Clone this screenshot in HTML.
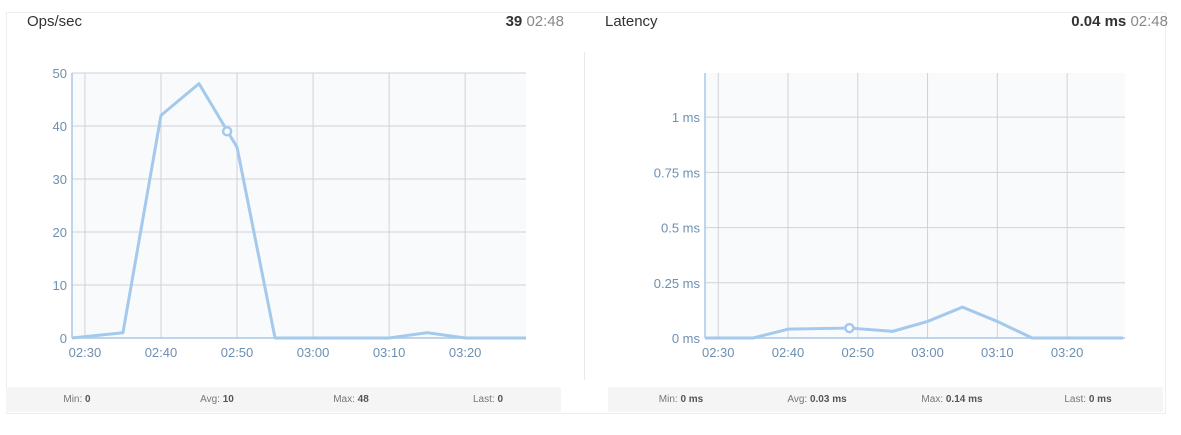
<!DOCTYPE html>
<html><head><meta charset="utf-8"><style>
body{margin:0;width:1181px;height:435px;background:#fff;font-family:"Liberation Sans",sans-serif;position:relative;overflow:hidden}
.card{position:absolute;left:6px;top:12px;width:1158px;height:400px;border:1px solid #eceef0;border-right:1px solid #eceef0}
.sep{position:absolute;left:584px;top:52px;width:1px;height:328px;background:#e6e8ea}
.title{position:absolute;top:13px;font-size:15px;color:#333}
.val{position:absolute;top:13px;font-size:15px;color:#888;text-align:right}
.val b{color:#333}
.foot{position:absolute;top:387px;height:25px;background:#f5f5f5;font-size:10px;color:#777;border-radius:2px}
.foot span{position:absolute;top:7px;transform:translateX(-50%);white-space:nowrap}
.foot b{color:#555}
svg{position:absolute;left:0;top:0}
</style></head><body>
<div class="card"></div>
<div class="sep"></div>
<div class="title" style="left:27px">Ops/sec</div>
<div class="val" style="right:617px"><b>39</b> 02:48</div>
<div class="title" style="left:605px">Latency</div>
<div class="val" style="right:13px"><b>0.04 ms</b> 02:48</div>
<div class="foot" style="left:6px;width:555px">
<span style="left:71px">Min: <b>0</b></span><span style="left:211px">Avg: <b>10</b></span><span style="left:345px">Max: <b>48</b></span><span style="left:482px">Last: <b>0</b></span></div>
<div class="foot" style="left:608px;width:555px">
<span style="left:73px">Min: <b>0 ms</b></span><span style="left:209px">Avg: <b>0.03 ms</b></span><span style="left:344px">Max: <b>0.14 ms</b></span><span style="left:480px">Last: <b>0 ms</b></span></div>
<svg id="svg" width="1181" height="435"></svg>
<script>
const xTickLabels=["02:30","02:40","02:50","03:00","03:10","03:20"];
const xTickMins=[0,10,20,30,40,50];
const opsTimes=[-1.7,5,10,15,20,25,30,35,40,45,50,55,58];
const opsValues=[0,1,42,48,36,0,0,0,0,1,0,0,0];
const opsYTicks=[0,10,20,30,40,50];
const opsMarker=[18.7,39];
const latTimes=[-1.9,5,10,18.8,25,30,35,40,45,50,55,58];
const latValues=[0,0,0.04,0.045,0.03,0.075,0.14,0.075,0,0,0,0];
const latYTicks=[0,0.25,0.5,0.75,1];
const latYLabels=["0 ms","0.25 ms","0.5 ms","0.75 ms","1 ms"];
const latMarker=[18.8,0.045];
const NS="http://www.w3.org/2000/svg";
const svg=document.getElementById('svg');
function mk(t,a,p){const e=document.createElementNS(NS,t);for(const k in a)e.setAttribute(k,a[k]);(p||svg).appendChild(e);return e;}
function chart(o){
  const X=m=>o.x0+(m-o.tMin)*(o.x1-o.x0)/(o.tMax-o.tMin);
  const Y=v=>o.y1-(v-o.vMin)*(o.y1-o.y0)/(o.vMax-o.vMin);
  const g=mk('g',{});
  
  
  mk('rect',{x:o.x0,y:o.y0,width:o.x1-o.x0,height:o.y1-o.y0,fill:'#f9fafc'},g);
  o.yt.forEach((v,i)=>{
    const y=Y(v);
    const l=mk('line',{x1:o.x0,x2:o.x1,y1:y,y2:y,stroke:'#cfd2d8','stroke-width':1},g);
    
    
    const t=mk('text',{x:o.x0-5,y:y+5,'text-anchor':'end','font-size':13,fill:'#6e8fb0'},g);
    t.textContent=o.yl[i];
    
    
  });
  xTickMins.forEach((m,i)=>{
    const x=X(m);
    const l=mk('line',{x1:x,x2:x,y1:o.y0,y2:o.y1,stroke:'#cfd2d8','stroke-width':1},g);
    
    
    const t=mk('text',{x:x,y:o.y1+19,'text-anchor':'middle','font-size':13,fill:'#6e8fb0'},g);
    t.textContent=xTickLabels[i];
    
    
  });
  mk('line',{x1:o.x0,x2:o.x0,y1:o.y0,y2:o.y1,stroke:'#a8c8e8','stroke-width':1.5},g);
  mk('line',{x1:o.x0,x2:o.x1,y1:o.y1,y2:o.y1,stroke:'#a8c8e8','stroke-width':1.5},g);
  const pts=o.t.map((m,i)=>X(Math.max(o.tMin,Math.min(o.tMax,m)))+','+Y(o.v[i])).join(' ');
  const pl=mk('polyline',{points:pts,fill:'none',stroke:'#a3c9ec','stroke-width':3,'stroke-linejoin':'round'},g);
  
  
  const c=mk('circle',{cx:X(o.mk[0]),cy:Y(o.mk[1]),r:4,fill:'#fff',stroke:'#a3c9ec','stroke-width':2.5},g);
  
  
}
chart({name:'ops-chart',x0:72,x1:526,y0:73,y1:338,tMin:-1.7,tMax:58,vMin:0,vMax:50,yt:opsYTicks,yl:opsYTicks.map(String),t:opsTimes,v:opsValues,mk:opsMarker});
chart({name:'latency-chart',x0:705,x1:1125,y0:73,y1:338,tMin:-1.9,tMax:58.3,vMin:0,vMax:1.2,yt:latYTicks,yl:latYLabels,t:latTimes,v:latValues,mk:latMarker});
</script>
</body></html>
